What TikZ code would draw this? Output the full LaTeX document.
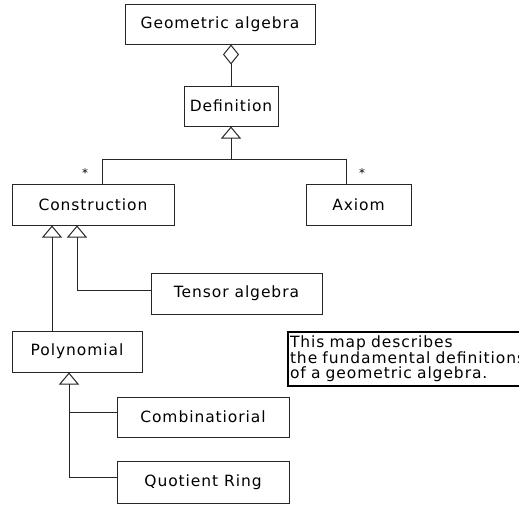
\documentclass[tikz,border=0pt]{standalone}
\usepackage{fontspec}
\setmainfont{DejaVu Sans}[LetterSpace=6]
\usetikzlibrary{arrows.meta, positioning}

\tikzset{
    umlbox/.style={draw=black!85, line width=1pt, fill=white, inner sep=0pt,
        font=\fontsize{15.5}{15.5}\selectfont},
    gen/.style={draw=black!85, line width=1pt, -{Triangle[open, width=20pt, length=12pt]}},
    aggr/.style={draw=black!85, line width=1pt, -{Diamond[open, width=16pt, length=20pt]}},
    link/.style={draw=black!85, line width=1pt},
    mult/.style={font=\fontsize{12}{12}\selectfont, inner sep=0pt}
}

\begin{document}
\begin{tikzpicture}[x=1pt, y=1pt]
            \useasboundingbox (0,0) rectangle (519,-506);

            % Boxes
            \node[umlbox, minimum width=190pt, minimum height=40pt] (ga) at (220,-24) {Geometric algebra};
            \node[umlbox, minimum width=94pt, minimum height=40pt] (def) at (231,-106) {Definition};
            \node[umlbox, minimum width=162pt, minimum height=41pt] (con) at (93,-204.5) {Construction};
            \node[umlbox, minimum width=105pt, minimum height=41pt] (axi) at (358.5,-204.5) {Axiom};
            \node[umlbox, minimum width=171pt, minimum height=41pt] (ten) at (236.5,-293.5) {Tensor algebra};
            \node[umlbox, minimum width=130pt, minimum height=41pt] (pol) at (77,-351.5) {Polynomial};
            \node[umlbox, minimum width=172pt, minimum height=40pt] (com) at (203,-417) {Combinatiorial};
            \node[umlbox, minimum width=172pt, minimum height=42pt] (quo) at (203,-482) {Quotient Ring};

            % Note (runs past the right edge)
            \node[draw, line width=2pt, anchor=north west, align=left, text width=260pt,
                inner xsep=2pt, inner ysep=4pt,
                font=\fontsize{15.5}{14.5}\selectfont] (note) at (287,-331)
                {This map describes\\the fundamental definitions\\of a geometric algebra.};

            % Definition is part of geometric algebra
            \draw[aggr] (def.north) -- (def.north |- ga.south);

            % Construction and axiom
            \coordinate (defj) at (231,-159);
            \draw[gen] ([xshift=9pt]con.north) |- (defj) -- (def.south);
            \draw[link] ([xshift=-12.5pt]axi.north) |- (defj);
            \node[mult] (star1) at (85,-173) {*};
            \node[mult] (star2) at (362,-173) {*};

            % Kinds of construction
            \draw[gen] ([xshift=-25pt]pol.north) -- ([xshift=-41pt]con.south);
            \draw[gen] ([yshift=3.5pt]ten.west) -| ([xshift=-16pt]con.south);

            % Kinds of polynomial
            \coordinate (polj) at (69,-412);
            \draw[gen] ([yshift=5pt]com.west) -| ([xshift=-8pt]pol.south);
            \draw[link] ([yshift=5pt]quo.west) -| (polj);

        \end{tikzpicture}
\end{document}
